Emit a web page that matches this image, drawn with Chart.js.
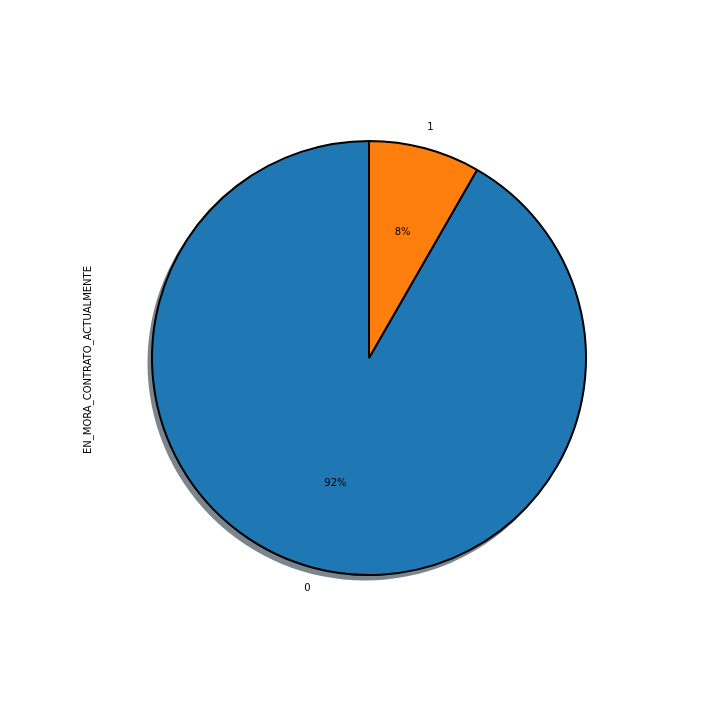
<!DOCTYPE html>
<html>
<head>
<meta charset="utf-8">
<script src="https://cdn.jsdelivr.net/npm/chart.js@4/dist/chart.umd.min.js"></script>
<style>
  html, body { margin: 0; padding: 0; background: #fff; }
  #pieChart { display: block; }
</style>
</head>
<body>
<canvas id="pieChart" width="720" height="720"></canvas>
<script>
// 카테고리와 비율
const categories = ['0', '1'];
const shares = [91.7, 8.3];
const sliceColors = ['#1f77b4', '#ff7f0e'];
const axisTitle = 'EN_MORA_CONTRATO_ACTUALMENTE';

const total = shares.reduce((a, b) => a + b, 0);
// matplotlib startangle=90 + counterclock 배치를 Chart.js(시계방향)로 맞춤
const startRotation = shares[shares.length - 1] / total * 360;

const FONT = '10px "DejaVu Sans", sans-serif';

// 그림자 (pie 뒤에 회색 원)
const shadowPlugin = {
    id: 'pieShadow',
    beforeDatasetsDraw(chart) {
        const arc = chart.getDatasetMeta(0).data[0];
        if (!arc) return;
        const p = arc.getProps(['x', 'y', 'outerRadius'], true);
        const ctx = chart.ctx;
        ctx.save();
        ctx.beginPath();
        ctx.arc(p.x - 4, p.y + 5, p.outerRadius + 0.5, 0, Math.PI * 2);
        ctx.fillStyle = 'rgba(60, 75, 88, 0.68)';
        ctx.fill();
        ctx.restore();
    }
};

// 조각 라벨, 퍼센트, 세로 축 제목
const labelPlugin = {
    id: 'pieLabels',
    afterDatasetsDraw(chart) {
        const ctx = chart.ctx;
        const meta = chart.getDatasetMeta(0);
        ctx.save();
        ctx.font = FONT;
        ctx.fillStyle = '#000';
        ctx.textAlign = 'center';
        ctx.textBaseline = 'middle';
        meta.data.forEach((arc, i) => {
            const p = arc.getProps(['x', 'y', 'startAngle', 'endAngle', 'outerRadius'], true);
            const mid = (p.startAngle + p.endAngle) / 2;
            const pct = Math.round(shares[i] / total * 100) + '%';
            ctx.fillText(pct, p.x + Math.cos(mid) * p.outerRadius * 0.6, p.y + Math.sin(mid) * p.outerRadius * 0.6);
            ctx.fillText(categories[i], p.x + Math.cos(mid) * p.outerRadius * 1.1, p.y + Math.sin(mid) * p.outerRadius * 1.1);
        });
        ctx.translate(88, 360);
        ctx.rotate(-Math.PI / 2);
        ctx.fillText(axisTitle, 0, 0);
        ctx.restore();
    }
};

const ctx = document.getElementById('pieChart').getContext('2d');
new Chart(ctx, {
    type: 'pie',
    data: {
        labels: categories,
        datasets: [{
            data: shares,
            backgroundColor: sliceColors,
            borderColor: '#000',
            borderWidth: 2,
            hoverOffset: 0
        }]
    },
    options: {
        responsive: false,
        animation: false,
        rotation: startRotation,
        layout: {
            padding: { left: 151, right: 133, top: 140, bottom: 144 }
        },
        plugins: {
            legend: { display: false },
            tooltip: { enabled: false }
        }
    },
    plugins: [shadowPlugin, labelPlugin]
});
</script>
</body>
</html>
